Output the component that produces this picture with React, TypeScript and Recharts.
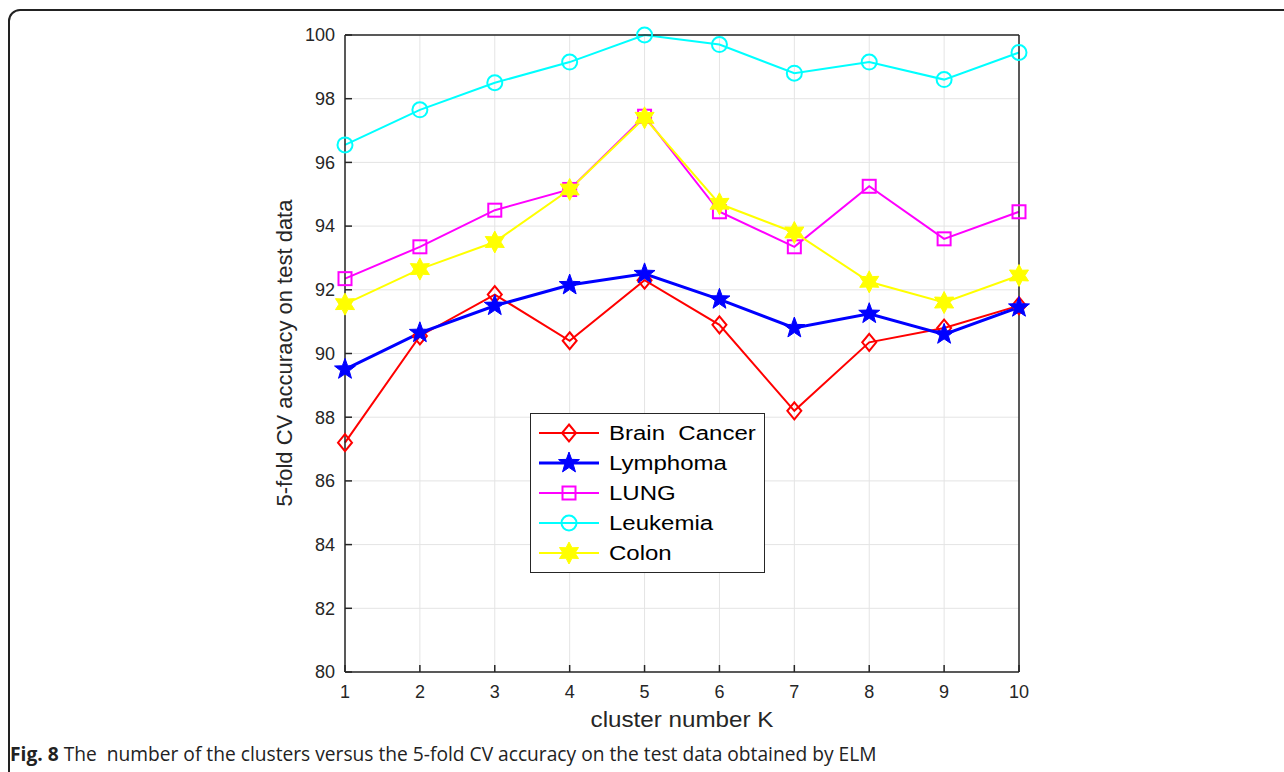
import React from "react";
import { LineChart, Line, XAxis, YAxis, CartesianGrid } from "recharts";

// cluster number K
const kValues = [1, 2, 3, 4, 5, 6, 7, 8, 9, 10];
const yTicks = [80, 82, 84, 86, 88, 90, 92, 94, 96, 98, 100];

// 5-fold CV accuracy per dataset
const brainCancer = [87.2, 90.55, 91.85, 90.4, 92.3, 90.9, 88.2, 90.35, 90.8, 91.5];
const lymphoma = [89.5, 90.65, 91.5, 92.15, 92.5, 91.7, 90.8, 91.25, 90.6, 91.45];
const lung = [92.35, 93.35, 94.5, 95.15, 97.45, 94.45, 93.35, 95.25, 93.6, 94.45];
const leukemia = [96.55, 97.65, 98.5, 99.15, 100, 99.7, 98.8, 99.15, 98.6, 99.45];
const colon = [91.55, 92.65, 93.5, 95.15, 97.4, 94.7, 93.8, 92.25, 91.6, 92.45];

const series = [
  { key: "brain", name: "Brain  Cancer", color: "#ff0000", marker: "diamond", width: 2, values: brainCancer },
  { key: "lymph", name: "Lymphoma", color: "#0000ff", marker: "pentagram", width: 3, values: lymphoma },
  { key: "lung", name: "LUNG", color: "#ff00ff", marker: "square", width: 2, values: lung },
  { key: "leuk", name: "Leukemia", color: "#00ffff", marker: "circle", width: 2, values: leukemia },
  { key: "colon", name: "Colon", color: "#ffff00", marker: "hexagram", width: 2, values: colon },
];

const data = kValues.map((k, i) => {
  const row: Record<string, number> = { k };
  series.forEach((s) => (row[s.key] = s.values[i]));
  return row;
});

const AXIS = "#262626";
const FONT = "'Liberation Sans', Arial, sans-serif";

function starPath(cx: number, cy: number, n: number, ro: number, ri: number) {
  const pts: string[] = [];
  for (let i = 0; i < n * 2; i++) {
    const r = i % 2 === 0 ? ro : ri;
    const a = -Math.PI / 2 + (i * Math.PI) / n;
    pts.push(`${(cx + r * Math.cos(a)).toFixed(2)},${(cy + r * Math.sin(a)).toFixed(2)}`);
  }
  return "M" + pts.join("L") + "Z";
}

function Marker({ cx, cy, type, color }: { cx: number; cy: number; type: string; color: string }) {
  if (type === "diamond")
    return (
      <path
        d={`M${cx},${cy - 8.5}L${cx + 7},${cy}L${cx},${cy + 8.5}L${cx - 7},${cy}Z`}
        fill="none"
        stroke={color}
        strokeWidth={2}
      />
    );
  if (type === "square")
    return <rect x={cx - 6.5} y={cy - 6.5} width={13} height={13} fill="none" stroke={color} strokeWidth={2} />;
  if (type === "circle") return <circle cx={cx} cy={cy} r={7.5} fill="none" stroke={color} strokeWidth={2} />;
  if (type === "pentagram") return <path d={starPath(cx, cy, 5, 11, 4.5)} fill={color} stroke={color} strokeWidth={1} />;
  return <path d={starPath(cx, cy, 6, 11, 6)} fill={color} stroke={color} strokeWidth={1} />;
}

function LegendBox() {
  return (
    <div
      style={{
        position: "absolute",
        left: 530,
        top: 413,
        border: "1px solid #262626",
        background: "#fff",
        width: 233,
        padding: "4px 0",
        fontFamily: FONT,
        fontSize: 20,
        color: "#000",
      }}
    >
      {series.map((s) => (
        <div key={s.key} style={{ display: "flex", alignItems: "center", height: 30 }}>
          <svg width={70} height={30} style={{ marginLeft: 6 }}>
            <line x1={2} y1={15} x2={62} y2={15} stroke={s.color} strokeWidth={s.width} />
            <Marker cx={32} cy={15} type={s.marker} color={s.color} />
          </svg>
          <span
            style={{
              marginLeft: 2,
              whiteSpace: "pre",
              display: "inline-block",
              transform: "scaleX(1.2)",
              transformOrigin: "left center",
            }}
          >
            {s.name}
          </span>
        </div>
      ))}
    </div>
  );
}

export default function App() {
  return (
    <div style={{ position: "fixed", left: 0, top: 0, width: 1284, height: 772, overflow: "hidden", background: "#fff" }}>
      <div
        style={{
          position: "absolute",
          left: 8,
          top: 9,
          width: 1400,
          height: 790,
          border: "2px solid #222",
          borderRadius: 12,
          boxSizing: "border-box",
        }}
      />
      <div style={{ position: "absolute", left: 0, top: 0 }}>
        <LineChart width={1284} height={772} data={data} margin={{ top: 34, right: 264, bottom: 0, left: 285 }}>
          <CartesianGrid stroke="#e4e4e4" strokeWidth={1} />
          <XAxis
            dataKey="k"
            type="number"
            domain={[1, 10]}
            ticks={kValues}
            height={100}
            stroke={AXIS}
            strokeWidth={1.5}
            tickSize={-7}
            tickMargin={20}
            tick={{ fill: AXIS, fontSize: 18, fontFamily: FONT }}
          />
          <XAxis
            xAxisId="top"
            orientation="top"
            dataKey="k"
            type="number"
            domain={[1, 10]}
            ticks={kValues}
            height={1}
            stroke={AXIS}
            strokeWidth={1.5}
            tickSize={-7}
            tick={false}
          />
          <YAxis
            domain={[80, 100]}
            ticks={yTicks}
            width={60}
            stroke={AXIS}
            strokeWidth={1.5}
            tickSize={-7}
            tickMargin={17}
            tick={{ fill: AXIS, fontSize: 18, fontFamily: FONT }}
          />
          <YAxis
            yAxisId="right"
            orientation="right"
            domain={[80, 100]}
            ticks={yTicks}
            width={1}
            stroke={AXIS}
            strokeWidth={1.5}
            tickSize={-7}
            tick={false}
          />
          {series.map((s) => (
            <Line
              key={s.key}
              dataKey={s.key}
              name={s.name}
              type="linear"
              stroke={s.color}
              strokeWidth={s.width}
              isAnimationActive={false}
              dot={(p: any) => (
                <Marker key={`${s.key}-${p.index}`} cx={p.cx} cy={p.cy} type={s.marker} color={s.color} />
              )}
              activeDot={false}
            />
          ))}
        </LineChart>
      </div>
      <LegendBox />
      <div
        style={{
          position: "absolute",
          left: 285,
          top: 353,
          transform: "translate(-50%, -50%) rotate(-90deg)",
          fontFamily: FONT,
          fontSize: 22,
          color: AXIS,
          whiteSpace: "nowrap",
        }}
      >
        5-fold CV accuracy on test data
      </div>
      <div
        style={{
          position: "absolute",
          left: 682,
          top: 720,
          transform: "translate(-50%, -50%) scaleX(1.1)",
          fontFamily: FONT,
          fontSize: 22,
          color: AXIS,
          whiteSpace: "nowrap",
        }}
      >
        cluster number K
      </div>
      <div
        style={{
          position: "absolute",
          left: 10,
          top: 740,
          fontFamily: "'Open Sans', sans-serif",
          fontSize: 19.2,
          color: "#222",
          whiteSpace: "pre",
        }}
      >
        <b>Fig. 8</b> The  number of the clusters versus the 5-fold CV accuracy on the test data obtained by ELM
      </div>
    </div>
  );
}
